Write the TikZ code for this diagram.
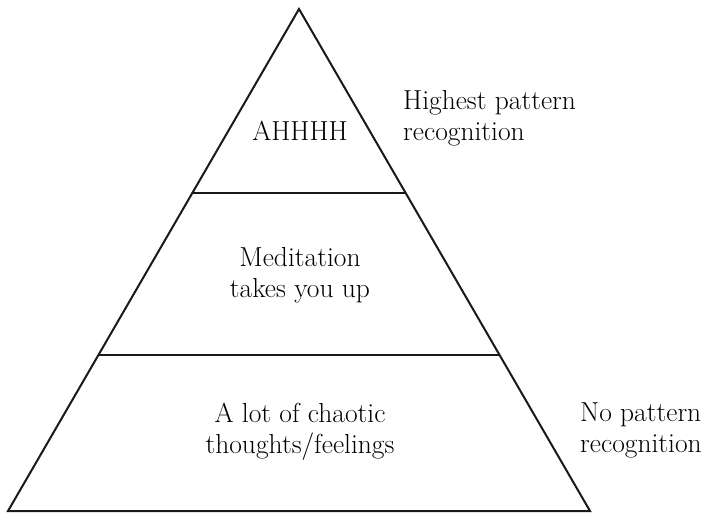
\documentclass[tikz,border=0pt]{standalone}
\usepackage{tikz}
\usetikzlibrary{calc}

\begin{document}
\begin{tikzpicture}[
      x=1pt,y=-1pt,
      font=\fontsize{27.5}{31}\selectfont,
      edge/.style={line width=2pt,draw=black!90,line join=miter},
      label/.style={inner sep=0pt,align=center,anchor=base,text=black},
      side/.style={inner sep=0pt,align=left,anchor=base west,text=black}
    ]
      \useasboundingbox (0,0) rectangle (710,513);
      \coordinate (apex) at (299,9);
      \coordinate (bl) at (8,511);
      \coordinate (br) at (590,511);
      \coordinate (l1) at ($(apex)!0.3665!(bl)$);
      \coordinate (r1) at ($(apex)!0.3665!(br)$);
      \coordinate (l2) at ($(apex)!0.6892!(bl)$);
      \coordinate (r2) at ($(apex)!0.6892!(br)$);
      \draw[edge] (apex) -- (bl) -- (br) -- cycle;
      \draw[edge] (l1) -- (r1);
      \draw[edge] (l2) -- (r2);
      % two-line nodes sit on the baseline of their last line
      \node[label] (top) at (300,141) {AHHHH};
      \node[label] (mid) at (300,298) {Meditation\\takes you up};
      \node[label] (low) at (300,453) {A lot of chaotic\\thoughts/feelings};
      \node[side] (high) at (403,141) {Highest pattern\\recognition};
      \node[side] (none) at (580,452) {No pattern\\recognition};
    \end{tikzpicture}
\end{document}
